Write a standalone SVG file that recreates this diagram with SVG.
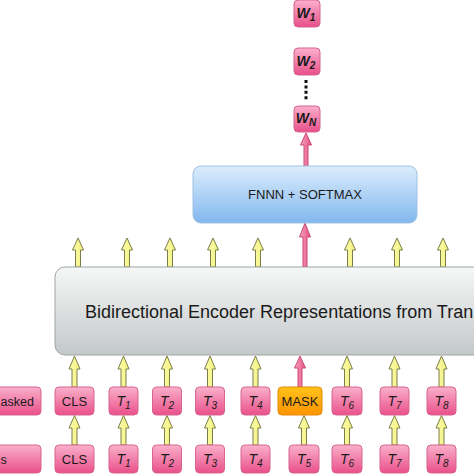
<svg xmlns="http://www.w3.org/2000/svg" width="474" height="474" viewBox="0 0 474 474">
<defs>
<linearGradient id="gPink" x1="0" y1="0" x2="0" y2="1">
<stop offset="0" stop-color="#fab0cb"/>
<stop offset="1" stop-color="#e9508a"/>
</linearGradient>
<linearGradient id="gMask" x1="0" y1="0" x2="0" y2="1">
<stop offset="0" stop-color="#ffc21a"/>
<stop offset="1" stop-color="#ff9300"/>
</linearGradient>
<linearGradient id="gEnc" x1="0" y1="0" x2="0" y2="1">
<stop offset="0" stop-color="#f6f7f7"/>
<stop offset="1" stop-color="#c3c8c8"/>
</linearGradient>
<linearGradient id="gFnn" x1="0" y1="0" x2="0" y2="1">
<stop offset="0" stop-color="#dcedfd"/>
<stop offset="1" stop-color="#82b7ee"/>
</linearGradient>
<linearGradient id="gYel" x1="0" y1="0" x2="1" y2="0">
<stop offset="0" stop-color="#fbfbb0"/>
<stop offset="1" stop-color="#f2f27a"/>
</linearGradient>
<linearGradient id="gPa" x1="0" y1="0" x2="1" y2="0">
<stop offset="0" stop-color="#f8a4c0"/>
<stop offset="1" stop-color="#e6507f"/>
</linearGradient>
</defs>
<style>
.pk{fill:url(#gPink);stroke:#d6658f;stroke-width:1}
.mk{fill:url(#gMask);stroke:#e38a00;stroke-width:1}
.enc{fill:url(#gEnc);stroke:#9ea4a4;stroke-width:1}
.fn{fill:url(#gFnn);stroke:#9fc1e4;stroke-width:1}
.ya{fill:url(#gYel);stroke:#7d7d4a;stroke-width:1;stroke-linejoin:miter}
.pa{fill:url(#gPa);stroke:#c8497a;stroke-width:1}
.t{font-family:"Liberation Sans",Arial,Helvetica,sans-serif;font-size:13px;fill:#1a1a1a;text-anchor:middle}
.ti{font-family:"Liberation Sans",Arial,Helvetica,sans-serif;font-size:14px;font-style:italic;fill:#1a1a1a;text-anchor:middle}
.tw{font-family:"Liberation Sans",Arial,Helvetica,sans-serif;font-size:14px;font-style:italic;font-weight:bold;fill:#1a1a1a;text-anchor:middle}
.sub{font-size:10px}
.subw{font-size:10px}
.dots{stroke:#111;stroke-width:3;stroke-dasharray:3 2.4;fill:none}
</style>

<g id="connectors">
<path class="ya" d="M78,238 l5.5,12 h-3 v17 h-5 v-17 h-3 z"/>
<path class="ya" d="M127,238 l5.5,12 h-3 v17 h-5 v-17 h-3 z"/>
<path class="ya" d="M170,238 l5.5,12 h-3 v17 h-5 v-17 h-3 z"/>
<path class="ya" d="M213,238 l5.5,12 h-3 v17 h-5 v-17 h-3 z"/>
<path class="ya" d="M258,238 l5.5,12 h-3 v17 h-5 v-17 h-3 z"/>
<path class="pa" d="M305,223 l5.5,14 h-3.5 v30 h-4 v-30 h-3.5 z"/>
<path class="ya" d="M350,238 l5.5,12 h-3 v17 h-5 v-17 h-3 z"/>
<path class="ya" d="M397,238 l5.5,12 h-3 v17 h-5 v-17 h-3 z"/>
<path class="ya" d="M443,238 l5.5,12 h-3 v17 h-5 v-17 h-3 z"/>
<path class="pa" d="M306,133 l5.5,12 h-3.5 v21 h-4 v-21 h-3.5 z"/>
<line class="dots" x1="306" y1="80" x2="306" y2="101"/>
<path class="ya" d="M74.5,356 l5.5,13 h-3 v18 h-5 v-18 h-3 z"/>
<path class="ya" d="M123.5,356 l5.5,13 h-3 v18 h-5 v-18 h-3 z"/>
<path class="ya" d="M167,356 l5.5,13 h-3 v18 h-5 v-18 h-3 z"/>
<path class="ya" d="M210,356 l5.5,13 h-3 v18 h-5 v-18 h-3 z"/>
<path class="ya" d="M255.5,356 l5.5,13 h-3 v18 h-5 v-18 h-3 z"/>
<path class="pa" d="M300,356 l5.5,12 h-3.5 v19 h-4 v-19 h-3.5 z"/>
<path class="ya" d="M347,356 l5.5,13 h-3 v18 h-5 v-18 h-3 z"/>
<path class="ya" d="M394.5,356 l5.5,13 h-3 v18 h-5 v-18 h-3 z"/>
<path class="ya" d="M441.5,356 l5.5,13 h-3 v18 h-5 v-18 h-3 z"/>
<path class="ya" d="M74.5,415.5 l5.5,12.5 h-3 v17 h-5 v-17 h-3 z"/>
<path class="ya" d="M123.5,415.5 l5.5,12.5 h-3 v17 h-5 v-17 h-3 z"/>
<path class="ya" d="M167,415.5 l5.5,12.5 h-3 v17 h-5 v-17 h-3 z"/>
<path class="ya" d="M210,415.5 l5.5,12.5 h-3 v17 h-5 v-17 h-3 z"/>
<path class="ya" d="M255.5,415.5 l5.5,12.5 h-3 v17 h-5 v-17 h-3 z"/>
<path class="ya" d="M304,415.5 l5.5,12.5 h-3 v17 h-5 v-17 h-3 z"/>
<path class="ya" d="M347,415.5 l5.5,12.5 h-3 v17 h-5 v-17 h-3 z"/>
<path class="ya" d="M394.5,415.5 l5.5,12.5 h-3 v17 h-5 v-17 h-3 z"/>
<path class="ya" d="M441.5,415.5 l5.5,12.5 h-3 v17 h-5 v-17 h-3 z"/>
</g>

<g id="w1"><rect class="pk" x="294" y="0" width="26" height="27" rx="4"/><text class="tw" x="306" y="18">W<tspan class="subw" dy="3">1</tspan></text></g>
<g id="w2"><rect class="pk" x="294" y="48" width="26" height="27" rx="4"/><text class="tw" x="306" y="66">W<tspan class="subw" dy="3">2</tspan></text></g>
<g id="wn"><rect class="pk" x="294" y="106" width="26" height="26" rx="4"/><text class="tw" x="306" y="123">W<tspan class="subw" dy="3">N</tspan></text></g>

<g id="fnnn"><rect class="fn" x="193" y="166" width="224" height="57" rx="8"/><text class="t" x="305" y="199">FNNN + SOFTMAX</text></g>

<g id="encoder"><rect class="enc" x="55" y="267" width="470" height="88" rx="10"/><text class="t" x="85" y="318" style="font-size:18px;text-anchor:start">Bidirectional Encoder Representations from Tran</text></g>

<g id="lbl-masked"><rect class="pk" x="-20" y="387" width="61" height="28" rx="4"/><text class="t" x="0.5" y="406" style="text-anchor:start;font-size:12.5px">asked</text></g>
<g id="m-cls"><rect class="pk" x="55" y="387" width="39" height="28" rx="4"/><text class="t" x="74.5" y="406">CLS</text></g>
<g id="m-t1"><rect class="pk" x="109" y="387" width="29" height="28" rx="4"/><text class="ti" x="123.5" y="406">T<tspan class="sub" dy="3">1</tspan></text></g>
<g id="m-t2"><rect class="pk" x="152.5" y="387" width="29" height="28" rx="4"/><text class="ti" x="167" y="406">T<tspan class="sub" dy="3">2</tspan></text></g>
<g id="m-t3"><rect class="pk" x="195.5" y="387" width="29" height="28" rx="4"/><text class="ti" x="210" y="406">T<tspan class="sub" dy="3">3</tspan></text></g>
<g id="m-t4"><rect class="pk" x="241" y="387" width="29" height="28" rx="4"/><text class="ti" x="255.5" y="406">T<tspan class="sub" dy="3">4</tspan></text></g>
<g id="m-mask"><rect class="mk" x="278" y="387" width="44" height="28" rx="4"/><text class="t" x="300" y="406">MASK</text></g>
<g id="m-t6"><rect class="pk" x="332" y="387" width="30" height="28" rx="4"/><text class="ti" x="347" y="406">T<tspan class="sub" dy="3">6</tspan></text></g>
<g id="m-t7"><rect class="pk" x="380" y="387" width="29" height="28" rx="4"/><text class="ti" x="394.5" y="406">T<tspan class="sub" dy="3">7</tspan></text></g>
<g id="m-t8"><rect class="pk" x="427" y="387" width="29" height="28" rx="4"/><text class="ti" x="441.5" y="406">T<tspan class="sub" dy="3">8</tspan></text></g>

<g id="lbl-input"><rect class="pk" x="-20" y="445" width="61" height="28" rx="4"/><text class="t" x="0.5" y="464" style="text-anchor:start;font-size:12.5px">s</text></g>
<g id="i-cls"><rect class="pk" x="55" y="445" width="39" height="28" rx="4"/><text class="t" x="74.5" y="464">CLS</text></g>
<g id="i-t1"><rect class="pk" x="109" y="445" width="29" height="28" rx="4"/><text class="ti" x="123.5" y="464">T<tspan class="sub" dy="3">1</tspan></text></g>
<g id="i-t2"><rect class="pk" x="152.5" y="445" width="29" height="28" rx="4"/><text class="ti" x="167" y="464">T<tspan class="sub" dy="3">2</tspan></text></g>
<g id="i-t3"><rect class="pk" x="195.5" y="445" width="29" height="28" rx="4"/><text class="ti" x="210" y="464">T<tspan class="sub" dy="3">3</tspan></text></g>
<g id="i-t4"><rect class="pk" x="241" y="445" width="29" height="28" rx="4"/><text class="ti" x="255.5" y="464">T<tspan class="sub" dy="3">4</tspan></text></g>
<g id="i-t5"><rect class="pk" x="289" y="445" width="30" height="28" rx="4"/><text class="ti" x="304" y="464">T<tspan class="sub" dy="3">5</tspan></text></g>
<g id="i-t6"><rect class="pk" x="332" y="445" width="30" height="28" rx="4"/><text class="ti" x="347" y="464">T<tspan class="sub" dy="3">6</tspan></text></g>
<g id="i-t7"><rect class="pk" x="380" y="445" width="29" height="28" rx="4"/><text class="ti" x="394.5" y="464">T<tspan class="sub" dy="3">7</tspan></text></g>
<g id="i-t8"><rect class="pk" x="427" y="445" width="29" height="28" rx="4"/><text class="ti" x="441.5" y="464">T<tspan class="sub" dy="3">8</tspan></text></g>
</svg>
